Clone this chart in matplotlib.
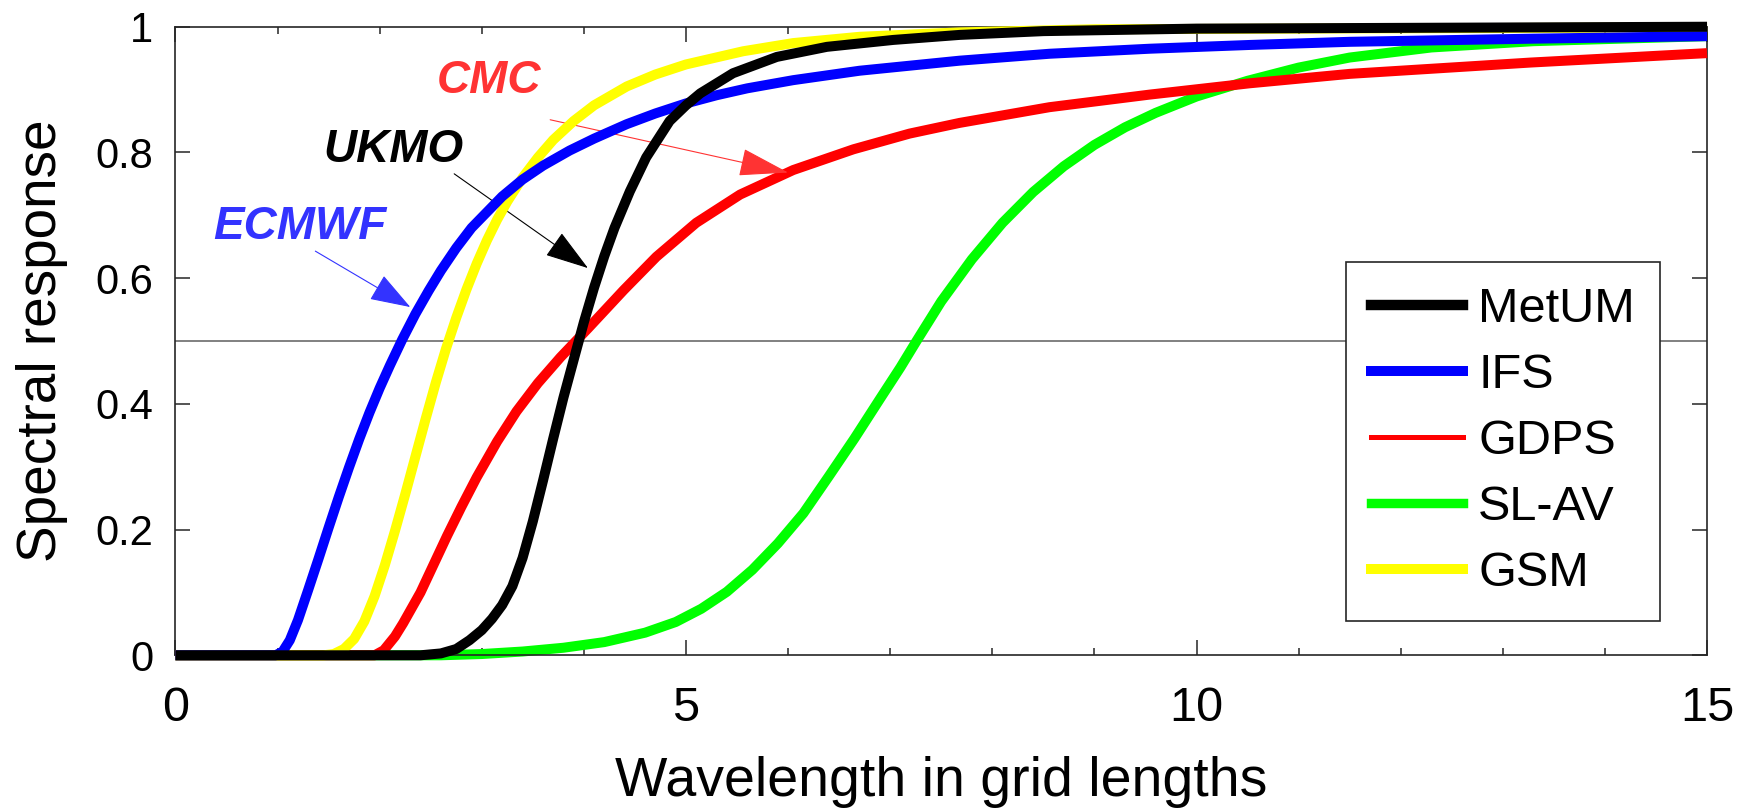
import numpy as np
import matplotlib
matplotlib.use("Agg")
import matplotlib.pyplot as plt
from matplotlib.lines import Line2D

plt.rcParams['font.family'] = ['Liberation Sans', 'DejaVu Sans']

# wavelength (grid lengths) and spectral response
metum_x = [0, 2.4, 2.6, 2.75, 2.88, 3.0, 3.1, 3.2, 3.3, 3.4, 3.5, 3.6, 3.7, 3.8, 3.9, 4.0, 4.1, 4.2,
           4.3, 4.45, 4.61, 4.84, 5.0, 5.14, 5.46, 5.89, 6.38, 7.03, 7.68, 8.5, 10.0, 15.0]
metum_y = [0, 0, 0.003, 0.01, 0.024, 0.04, 0.058, 0.08, 0.11, 0.155, 0.213, 0.278, 0.345, 0.41, 0.47,
           0.53, 0.585, 0.635, 0.68, 0.738, 0.792, 0.85, 0.875, 0.894, 0.926, 0.952, 0.968, 0.979,
           0.987, 0.993, 0.997, 1.0]

ifs_x = [0, 0.98, 1.05, 1.12, 1.2, 1.3, 1.4, 1.5, 1.6, 1.7, 1.8, 1.9, 2.0, 2.1, 2.22, 2.35, 2.48,
         2.6, 2.75, 2.9, 3.05, 3.2, 3.4, 3.6, 3.86, 4.1, 4.42, 4.7, 5.0, 5.3, 5.6, 6.05, 6.7, 7.68,
         8.56, 9.54, 10.52, 11.5, 13.3, 15]
ifs_y = [0, 0, 0.006, 0.024, 0.056, 0.104, 0.153, 0.203, 0.252, 0.299, 0.344, 0.386, 0.425, 0.461, 0.502,
         0.543, 0.58, 0.612, 0.648, 0.68, 0.705, 0.73, 0.757, 0.779, 0.803, 0.822, 0.845, 0.862, 0.878,
         0.891, 0.902, 0.915, 0.93, 0.946, 0.957, 0.965, 0.971, 0.976, 0.981, 0.985]

gdps_x = [0, 1.95, 2.04, 2.15, 2.23, 2.4, 2.53, 2.66, 2.8, 2.95, 3.15, 3.34, 3.55, 3.77, 4.04, 4.39,
          4.71, 5.1, 5.53, 6.05, 6.64, 7.19, 7.68, 8.56, 9.54, 10.52, 11.5, 13.27, 15]
gdps_y = [0, 0, 0.008, 0.03, 0.051, 0.10, 0.145, 0.19, 0.236, 0.283, 0.34, 0.388, 0.433, 0.474, 0.52,
          0.581, 0.634, 0.688, 0.733, 0.772, 0.805, 0.83, 0.847, 0.872, 0.892, 0.91, 0.925, 0.943, 0.958]

slav_x = [0, 2.6, 3.0, 3.4, 3.8, 4.2, 4.6, 4.9, 5.15, 5.4, 5.65, 5.9, 6.15, 6.4, 6.65, 6.9, 7.1,
          7.25, 7.5, 7.8, 8.1, 8.4, 8.7, 9.0, 9.3, 9.6, 10.0, 10.5, 11.0, 11.5, 12.3, 13.3, 15]
slav_y = [0, 0, 0.002, 0.006, 0.012, 0.021, 0.036, 0.053, 0.074, 0.101, 0.136, 0.178, 0.226, 0.285,
          0.345, 0.408, 0.458, 0.498, 0.563, 0.63, 0.688, 0.737, 0.778, 0.812, 0.84, 0.863, 0.889,
          0.914, 0.935, 0.951, 0.967, 0.977, 0.985]

gsm_x = [0, 1.45, 1.55, 1.65, 1.75, 1.85, 1.95, 2.05, 2.15, 2.25, 2.35, 2.45, 2.55, 2.65, 2.75, 2.85,
         2.95, 3.05, 3.15, 3.25, 3.4, 3.55, 3.7, 3.9, 4.1, 4.42, 4.7, 5.0, 5.56, 6.05, 6.7, 7.68, 9.0, 15]
gsm_y = [0, 0, 0.002, 0.01, 0.026, 0.054, 0.094, 0.143, 0.198, 0.256, 0.316, 0.376, 0.434, 0.488,
         0.537, 0.582, 0.623, 0.66, 0.693, 0.722, 0.76, 0.792, 0.82, 0.85, 0.875, 0.905, 0.924, 0.94,
         0.961, 0.974, 0.984, 0.991, 0.996, 0.999]

names = ['MetUM', 'IFS', 'GDPS', 'SL-AV', 'GSM']
colors = ['#000000', '#0000ff', '#ff0000', '#00ff00', '#ffff00']

fig = plt.figure(figsize=(17.51, 8.10), dpi=100)
ax = fig.add_axes([0.1002, 0.191, 0.8747, 0.776])

ax.axhline(0.5, color='#808080', lw=1.4, zorder=1)

lw = 7.2
ax.plot(slav_x, slav_y, color=colors[3], lw=lw, clip_on=False, solid_capstyle='butt', zorder=2)
ax.plot(gdps_x, gdps_y, color=colors[2], lw=lw, clip_on=False, solid_capstyle='butt', zorder=3)
ax.plot(gsm_x, gsm_y, color=colors[4], lw=lw, clip_on=False, solid_capstyle='butt', zorder=4)
ax.plot(ifs_x, ifs_y, color=colors[1], lw=lw, clip_on=False, solid_capstyle='butt', zorder=5)
ax.plot(metum_x, metum_y, color=colors[0], lw=lw, clip_on=False, solid_capstyle='butt', zorder=6)

ax.set_xlim(0, 15)
ax.set_ylim(0, 1)
ax.set_xticks([0, 5, 10, 15])
ax.set_xticks(np.arange(0, 16, 1), minor=True)
ax.set_yticks([0, 0.2, 0.4, 0.6, 0.8, 1])
ax.set_yticklabels(['0', '0.2', '0.4', '0.6', '0.8', '1'])
ax.tick_params(which='both', direction='in', top=True, right=True, width=1.1, color='#262626')
ax.tick_params(which='major', length=10.8)
ax.tick_params(which='minor', length=5)
ax.tick_params(axis='x', labelsize=35, pad=22)
ax.tick_params(axis='y', labelsize=30, pad=16)
for s in ax.spines.values():
    s.set_linewidth(1.2)
    s.set_color('#262626')

ax.set_xlabel('Wavelength in grid lengths', fontsize=40)
ax.xaxis.set_label_coords(0.5, -0.16)
ax.set_ylabel('Spectral response', fontsize=39.5)
ax.yaxis.set_label_coords(-0.07, 0.5)

# annotations
arrow = dict(mutation_scale=20, lw=0.8, shrinkA=0, shrinkB=0)
ax.text(2.13, 0.804, 'UKMO', fontsize=33, fontweight='bold', fontstyle='italic',
        color='black', ha='center', va='center')
ax.annotate('', xy=(4.04, 0.616), xytext=(2.73, 0.766),
            arrowprops=dict(arrowstyle='-|>,head_length=1.4,head_width=0.45', color='black', **arrow))
ax.text(3.07, 0.914, 'CMC', fontsize=33, fontweight='bold', fontstyle='italic',
        color='#ff3333', ha='center', va='center')
ax.annotate('', xy=(6.0, 0.768), xytext=(3.67, 0.852),
            arrowprops=dict(arrowstyle='-|>,head_length=1.6,head_width=0.45', color='#ff3333', **arrow))
ax.text(1.22, 0.682, 'ECMWF', fontsize=33, fontweight='bold', fontstyle='italic',
        color='#3333ff', ha='center', va='center')
ax.annotate('', xy=(2.30, 0.554), xytext=(1.37, 0.643),
            arrowprops=dict(arrowstyle='-|>,head_length=1.3,head_width=0.45', color='#3333ff', **arrow))

handles = [Line2D([], [], color=colors[0], lw=7.5),
           Line2D([], [], color=colors[1], lw=7.2),
           Line2D([], [], color=colors[2], lw=3.6),
           Line2D([], [], color=colors[3], lw=6.8),
           Line2D([], [], color=colors[4], lw=7.2)]
leg = ax.legend(handles, names, loc='lower right', bbox_to_anchor=(0.9693, 0.0546),
                borderaxespad=0, fontsize=35, frameon=True, fancybox=False, framealpha=1,
                edgecolor='#262626', handlelength=1.9, handletextpad=0.3, labelspacing=0.43,
                borderpad=0.52)
leg.get_frame().set_linewidth(1.2)
leg.set_zorder(10)

fig.savefig('out.png', dpi=100)
